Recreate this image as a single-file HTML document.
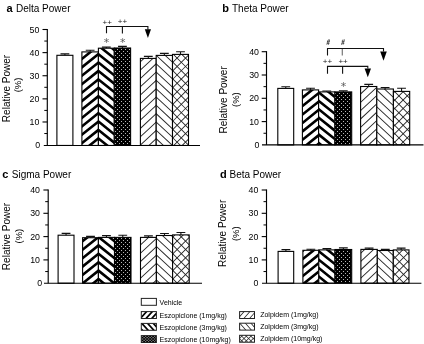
<!DOCTYPE html>
<html><head><meta charset="utf-8"><title>Relative power figure</title>
<style>
html,body{margin:0;padding:0;background:#fff;}
body{width:424px;height:344px;overflow:hidden;}
svg{display:block;}
text{font-family:"Liberation Sans", Arial, Helvetica, sans-serif;}
</style></head><body>
<svg width="424" height="344" viewBox="0 0 424 344">
<defs><clipPath id="c1"><rect x="56.9" y="55.3" width="16" height="90.15"/></clipPath>
<clipPath id="c2"><rect x="81.9" y="51.9" width="16.5" height="93.55"/></clipPath>
<clipPath id="c3"><rect x="98.4" y="48.2" width="15.9" height="97.25"/></clipPath>
<clipPath id="c4"><rect x="114.3" y="48" width="16.3" height="97.45"/></clipPath>
<clipPath id="c5"><rect x="140.4" y="58.4" width="15.8" height="87.05"/></clipPath>
<clipPath id="c6"><rect x="156.2" y="55.4" width="16.3" height="90.05"/></clipPath>
<clipPath id="c7"><rect x="172.5" y="54.4" width="16" height="91.05"/></clipPath>
<clipPath id="c8"><rect x="277.8" y="88.4" width="15.9" height="56.5"/></clipPath>
<clipPath id="c9"><rect x="302.4" y="89.9" width="16.2" height="55"/></clipPath>
<clipPath id="c10"><rect x="318.6" y="91.9" width="16.3" height="53"/></clipPath>
<clipPath id="c11"><rect x="334.9" y="91.9" width="16.8" height="53"/></clipPath>
<clipPath id="c12"><rect x="360.6" y="86.5" width="16.2" height="58.4"/></clipPath>
<clipPath id="c13"><rect x="376.8" y="89" width="16.6" height="55.9"/></clipPath>
<clipPath id="c14"><rect x="393.4" y="91.4" width="16.3" height="53.5"/></clipPath>
<clipPath id="c15"><rect x="58.1" y="235.2" width="15.9" height="48"/></clipPath>
<clipPath id="c16"><rect x="82.6" y="237.7" width="15.8" height="45.5"/></clipPath>
<clipPath id="c17"><rect x="98.4" y="237.4" width="16.1" height="45.8"/></clipPath>
<clipPath id="c18"><rect x="114.5" y="237.4" width="16.5" height="45.8"/></clipPath>
<clipPath id="c19"><rect x="140.5" y="237.4" width="15.9" height="45.8"/></clipPath>
<clipPath id="c20"><rect x="156.4" y="235.5" width="16.2" height="47.7"/></clipPath>
<clipPath id="c21"><rect x="172.6" y="234.9" width="16.6" height="48.3"/></clipPath>
<clipPath id="c22"><rect x="278.1" y="251.4" width="15.6" height="31.8"/></clipPath>
<clipPath id="c23"><rect x="302.9" y="250.3" width="15.9" height="32.9"/></clipPath>
<clipPath id="c24"><rect x="318.8" y="249.9" width="16.2" height="33.3"/></clipPath>
<clipPath id="c25"><rect x="335" y="249.5" width="16.7" height="33.7"/></clipPath>
<clipPath id="c26"><rect x="360.9" y="249.4" width="16.4" height="33.8"/></clipPath>
<clipPath id="c27"><rect x="377.3" y="250.5" width="16" height="32.7"/></clipPath>
<clipPath id="c28"><rect x="393.3" y="249.9" width="15.7" height="33.3"/></clipPath>
<clipPath id="c29"><rect x="141.3" y="298.4" width="15.1" height="6.9"/></clipPath>
<clipPath id="c30"><rect x="141.3" y="311.6" width="15.1" height="6.9"/></clipPath>
<clipPath id="c31"><rect x="141.3" y="323.4" width="15.1" height="6.9"/></clipPath>
<clipPath id="c32"><rect x="141.3" y="335.6" width="15.1" height="6.9"/></clipPath>
<clipPath id="c33"><rect x="239.6" y="311.6" width="14.9" height="6.9"/></clipPath>
<clipPath id="c34"><rect x="239.6" y="323.2" width="14.9" height="6.9"/></clipPath>
<clipPath id="c35"><rect x="239.6" y="335.3" width="14.9" height="6.9"/></clipPath></defs>
<rect width="424" height="344" fill="#fff"/>
<g><text x="6.5" y="12.4" font-size="11" font-weight="bold">a</text>
<text x="16" y="12.4" font-size="10" letter-spacing="0">Delta Power</text>
<text transform="translate(9.6,88.5) rotate(-90)" text-anchor="middle" font-size="10" letter-spacing="0">Relative Power</text>
<text transform="translate(21.4,84.9) rotate(-90)" text-anchor="middle" font-size="9.5">(%)</text>
<rect x="56.9" y="55.3" width="16" height="90.15" fill="#fff"/><rect x="56.9" y="55.3" width="16" height="90.15" fill="none" stroke="#000" stroke-width="1.1"/>
<path d="M64.9,55.3V53.9M60.5,53.9H69.3" stroke="#111" stroke-width="1.1" fill="none"/>
<rect x="81.9" y="51.9" width="16.5" height="93.55" fill="#fff"/><g clip-path="url(#c2)"><path d="M80.9,41.16L99.4,26.36L99.4,29.66L80.9,44.46ZM80.9,49.59L99.4,34.79L99.4,38.09L80.9,52.89ZM80.9,58.02L99.4,43.22L99.4,46.52L80.9,61.32ZM80.9,66.45L99.4,51.65L99.4,54.95L80.9,69.75ZM80.9,74.88L99.4,60.08L99.4,63.38L80.9,78.18ZM80.9,83.31L99.4,68.51L99.4,71.81L80.9,86.61ZM80.9,91.74L99.4,76.94L99.4,80.24L80.9,95.04ZM80.9,100.17L99.4,85.37L99.4,88.67L80.9,103.47ZM80.9,108.6L99.4,93.8L99.4,97.1L80.9,111.9ZM80.9,117.03L99.4,102.23L99.4,105.53L80.9,120.33ZM80.9,125.46L99.4,110.66L99.4,113.96L80.9,128.76ZM80.9,133.89L99.4,119.09L99.4,122.39L80.9,137.19ZM80.9,142.32L99.4,127.52L99.4,130.82L80.9,145.62ZM80.9,150.75L99.4,135.95L99.4,139.25L80.9,154.05ZM80.9,159.18L99.4,144.38L99.4,147.68L80.9,162.48ZM80.9,167.61L99.4,152.81L99.4,156.11L80.9,170.91Z" fill="#000"/></g><rect x="81.9" y="51.9" width="16.5" height="93.55" fill="none" stroke="#000" stroke-width="1.1"/>
<path d="M90.15,51.9V50.2M85.75,50.2H94.55" stroke="#111" stroke-width="1.1" fill="none"/>
<rect x="98.4" y="48.2" width="15.9" height="97.25" fill="#fff"/><g clip-path="url(#c3)"><path d="M97.4,26.36L115.3,40.68L115.3,43.98L97.4,29.66ZM97.4,34.79L115.3,49.11L115.3,52.41L97.4,38.09ZM97.4,43.22L115.3,57.54L115.3,60.84L97.4,46.52ZM97.4,51.65L115.3,65.97L115.3,69.27L97.4,54.95ZM97.4,60.08L115.3,74.4L115.3,77.7L97.4,63.38ZM97.4,68.51L115.3,82.83L115.3,86.13L97.4,71.81ZM97.4,76.94L115.3,91.26L115.3,94.56L97.4,80.24ZM97.4,85.37L115.3,99.69L115.3,102.99L97.4,88.67ZM97.4,93.8L115.3,108.12L115.3,111.42L97.4,97.1ZM97.4,102.23L115.3,116.55L115.3,119.85L97.4,105.53ZM97.4,110.66L115.3,124.98L115.3,128.28L97.4,113.96ZM97.4,119.09L115.3,133.41L115.3,136.71L97.4,122.39ZM97.4,127.52L115.3,141.84L115.3,145.14L97.4,130.82ZM97.4,135.95L115.3,150.27L115.3,153.57L97.4,139.25ZM97.4,144.38L115.3,158.7L115.3,162L97.4,147.68ZM97.4,152.81L115.3,167.13L115.3,170.43L97.4,156.11Z" fill="#000"/></g><rect x="98.4" y="48.2" width="15.9" height="97.25" fill="none" stroke="#000" stroke-width="1.1"/>
<path d="M106.35,48.2V47.1M101.95,47.1H110.75" stroke="#111" stroke-width="1.1" fill="none"/>
<rect x="114.3" y="48" width="16.3" height="97.45" fill="#fff"/><g clip-path="url(#c4)"><rect x="114.3" y="48" width="16.3" height="97.45" fill="#000"/><path d="M111,47h1v1h-1ZM115,47h1v1h-1ZM119,47h1v1h-1ZM123,47h1v1h-1ZM127,47h1v1h-1ZM113,49h1v1h-1ZM117,49h1v1h-1ZM121,49h1v1h-1ZM125,49h1v1h-1ZM129,49h1v1h-1ZM111,51h1v1h-1ZM115,51h1v1h-1ZM119,51h1v1h-1ZM123,51h1v1h-1ZM127,51h1v1h-1ZM113,53h1v1h-1ZM117,53h1v1h-1ZM121,53h1v1h-1ZM125,53h1v1h-1ZM129,53h1v1h-1ZM111,55h1v1h-1ZM115,55h1v1h-1ZM119,55h1v1h-1ZM123,55h1v1h-1ZM127,55h1v1h-1ZM113,57h1v1h-1ZM117,57h1v1h-1ZM121,57h1v1h-1ZM125,57h1v1h-1ZM129,57h1v1h-1ZM111,59h1v1h-1ZM115,59h1v1h-1ZM119,59h1v1h-1ZM123,59h1v1h-1ZM127,59h1v1h-1ZM113,61h1v1h-1ZM117,61h1v1h-1ZM121,61h1v1h-1ZM125,61h1v1h-1ZM129,61h1v1h-1ZM111,63h1v1h-1ZM115,63h1v1h-1ZM119,63h1v1h-1ZM123,63h1v1h-1ZM127,63h1v1h-1ZM113,65h1v1h-1ZM117,65h1v1h-1ZM121,65h1v1h-1ZM125,65h1v1h-1ZM129,65h1v1h-1ZM111,67h1v1h-1ZM115,67h1v1h-1ZM119,67h1v1h-1ZM123,67h1v1h-1ZM127,67h1v1h-1ZM113,69h1v1h-1ZM117,69h1v1h-1ZM121,69h1v1h-1ZM125,69h1v1h-1ZM129,69h1v1h-1ZM111,71h1v1h-1ZM115,71h1v1h-1ZM119,71h1v1h-1ZM123,71h1v1h-1ZM127,71h1v1h-1ZM113,73h1v1h-1ZM117,73h1v1h-1ZM121,73h1v1h-1ZM125,73h1v1h-1ZM129,73h1v1h-1ZM111,75h1v1h-1ZM115,75h1v1h-1ZM119,75h1v1h-1ZM123,75h1v1h-1ZM127,75h1v1h-1ZM113,77h1v1h-1ZM117,77h1v1h-1ZM121,77h1v1h-1ZM125,77h1v1h-1ZM129,77h1v1h-1ZM111,79h1v1h-1ZM115,79h1v1h-1ZM119,79h1v1h-1ZM123,79h1v1h-1ZM127,79h1v1h-1ZM113,81h1v1h-1ZM117,81h1v1h-1ZM121,81h1v1h-1ZM125,81h1v1h-1ZM129,81h1v1h-1ZM111,83h1v1h-1ZM115,83h1v1h-1ZM119,83h1v1h-1ZM123,83h1v1h-1ZM127,83h1v1h-1ZM113,85h1v1h-1ZM117,85h1v1h-1ZM121,85h1v1h-1ZM125,85h1v1h-1ZM129,85h1v1h-1ZM111,87h1v1h-1ZM115,87h1v1h-1ZM119,87h1v1h-1ZM123,87h1v1h-1ZM127,87h1v1h-1ZM113,89h1v1h-1ZM117,89h1v1h-1ZM121,89h1v1h-1ZM125,89h1v1h-1ZM129,89h1v1h-1ZM111,91h1v1h-1ZM115,91h1v1h-1ZM119,91h1v1h-1ZM123,91h1v1h-1ZM127,91h1v1h-1ZM113,93h1v1h-1ZM117,93h1v1h-1ZM121,93h1v1h-1ZM125,93h1v1h-1ZM129,93h1v1h-1ZM111,95h1v1h-1ZM115,95h1v1h-1ZM119,95h1v1h-1ZM123,95h1v1h-1ZM127,95h1v1h-1ZM113,97h1v1h-1ZM117,97h1v1h-1ZM121,97h1v1h-1ZM125,97h1v1h-1ZM129,97h1v1h-1ZM111,99h1v1h-1ZM115,99h1v1h-1ZM119,99h1v1h-1ZM123,99h1v1h-1ZM127,99h1v1h-1ZM113,101h1v1h-1ZM117,101h1v1h-1ZM121,101h1v1h-1ZM125,101h1v1h-1ZM129,101h1v1h-1ZM111,103h1v1h-1ZM115,103h1v1h-1ZM119,103h1v1h-1ZM123,103h1v1h-1ZM127,103h1v1h-1ZM113,105h1v1h-1ZM117,105h1v1h-1ZM121,105h1v1h-1ZM125,105h1v1h-1ZM129,105h1v1h-1ZM111,107h1v1h-1ZM115,107h1v1h-1ZM119,107h1v1h-1ZM123,107h1v1h-1ZM127,107h1v1h-1ZM113,109h1v1h-1ZM117,109h1v1h-1ZM121,109h1v1h-1ZM125,109h1v1h-1ZM129,109h1v1h-1ZM111,111h1v1h-1ZM115,111h1v1h-1ZM119,111h1v1h-1ZM123,111h1v1h-1ZM127,111h1v1h-1ZM113,113h1v1h-1ZM117,113h1v1h-1ZM121,113h1v1h-1ZM125,113h1v1h-1ZM129,113h1v1h-1ZM111,115h1v1h-1ZM115,115h1v1h-1ZM119,115h1v1h-1ZM123,115h1v1h-1ZM127,115h1v1h-1ZM113,117h1v1h-1ZM117,117h1v1h-1ZM121,117h1v1h-1ZM125,117h1v1h-1ZM129,117h1v1h-1ZM111,119h1v1h-1ZM115,119h1v1h-1ZM119,119h1v1h-1ZM123,119h1v1h-1ZM127,119h1v1h-1ZM113,121h1v1h-1ZM117,121h1v1h-1ZM121,121h1v1h-1ZM125,121h1v1h-1ZM129,121h1v1h-1ZM111,123h1v1h-1ZM115,123h1v1h-1ZM119,123h1v1h-1ZM123,123h1v1h-1ZM127,123h1v1h-1ZM113,125h1v1h-1ZM117,125h1v1h-1ZM121,125h1v1h-1ZM125,125h1v1h-1ZM129,125h1v1h-1ZM111,127h1v1h-1ZM115,127h1v1h-1ZM119,127h1v1h-1ZM123,127h1v1h-1ZM127,127h1v1h-1ZM113,129h1v1h-1ZM117,129h1v1h-1ZM121,129h1v1h-1ZM125,129h1v1h-1ZM129,129h1v1h-1ZM111,131h1v1h-1ZM115,131h1v1h-1ZM119,131h1v1h-1ZM123,131h1v1h-1ZM127,131h1v1h-1ZM113,133h1v1h-1ZM117,133h1v1h-1ZM121,133h1v1h-1ZM125,133h1v1h-1ZM129,133h1v1h-1ZM111,135h1v1h-1ZM115,135h1v1h-1ZM119,135h1v1h-1ZM123,135h1v1h-1ZM127,135h1v1h-1ZM113,137h1v1h-1ZM117,137h1v1h-1ZM121,137h1v1h-1ZM125,137h1v1h-1ZM129,137h1v1h-1ZM111,139h1v1h-1ZM115,139h1v1h-1ZM119,139h1v1h-1ZM123,139h1v1h-1ZM127,139h1v1h-1ZM113,141h1v1h-1ZM117,141h1v1h-1ZM121,141h1v1h-1ZM125,141h1v1h-1ZM129,141h1v1h-1ZM111,143h1v1h-1ZM115,143h1v1h-1ZM119,143h1v1h-1ZM123,143h1v1h-1ZM127,143h1v1h-1ZM113,145h1v1h-1ZM117,145h1v1h-1ZM121,145h1v1h-1ZM125,145h1v1h-1ZM129,145h1v1h-1Z" fill="#b8b8b8"/></g><rect x="114.3" y="48" width="16.3" height="97.45" fill="none" stroke="#000" stroke-width="1.1"/>
<path d="M122.45,48V46.4M118.05,46.4H126.85" stroke="#111" stroke-width="1.1" fill="none"/>
<rect x="140.4" y="58.4" width="15.8" height="87.05" fill="#fff"/><g clip-path="url(#c5)"><path d="M139.4,53.71L157.2,37.16L157.2,38.46L139.4,55.01ZM139.4,62.04L157.2,45.49L157.2,46.79L139.4,63.34ZM139.4,70.37L157.2,53.82L157.2,55.12L139.4,71.67ZM139.4,78.7L157.2,62.15L157.2,63.45L139.4,80ZM139.4,87.03L157.2,70.48L157.2,71.78L139.4,88.33ZM139.4,95.36L157.2,78.81L157.2,80.11L139.4,96.66ZM139.4,103.69L157.2,87.14L157.2,88.44L139.4,104.99ZM139.4,112.02L157.2,95.47L157.2,96.77L139.4,113.32ZM139.4,120.35L157.2,103.8L157.2,105.1L139.4,121.65ZM139.4,128.68L157.2,112.13L157.2,113.43L139.4,129.98ZM139.4,137.01L157.2,120.46L157.2,121.76L139.4,138.31ZM139.4,145.34L157.2,128.79L157.2,130.09L139.4,146.64ZM139.4,153.67L157.2,137.12L157.2,138.42L139.4,154.97ZM139.4,162L157.2,145.45L157.2,146.75L139.4,163.3Z" fill="#2a2a2a"/></g><rect x="140.4" y="58.4" width="15.8" height="87.05" fill="none" stroke="#000" stroke-width="1.1"/>
<path d="M148.3,58.4V56.4M143.9,56.4H152.7" stroke="#111" stroke-width="1.1" fill="none"/>
<rect x="156.2" y="55.4" width="16.3" height="90.05" fill="#fff"/><g clip-path="url(#c6)"><path d="M155.2,37.16L173.5,54.18L173.5,55.48L155.2,38.46ZM155.2,45.49L173.5,62.51L173.5,63.81L155.2,46.79ZM155.2,53.82L173.5,70.84L173.5,72.14L155.2,55.12ZM155.2,62.15L173.5,79.17L173.5,80.47L155.2,63.45ZM155.2,70.48L173.5,87.5L173.5,88.8L155.2,71.78ZM155.2,78.81L173.5,95.83L173.5,97.13L155.2,80.11ZM155.2,87.14L173.5,104.16L173.5,105.46L155.2,88.44ZM155.2,95.47L173.5,112.49L173.5,113.79L155.2,96.77ZM155.2,103.8L173.5,120.82L173.5,122.12L155.2,105.1ZM155.2,112.13L173.5,129.15L173.5,130.45L155.2,113.43ZM155.2,120.46L173.5,137.48L173.5,138.78L155.2,121.76ZM155.2,128.79L173.5,145.81L173.5,147.11L155.2,130.09ZM155.2,137.12L173.5,154.14L173.5,155.44L155.2,138.42ZM155.2,145.45L173.5,162.47L173.5,163.77L155.2,146.75Z" fill="#2a2a2a"/></g><rect x="156.2" y="55.4" width="16.3" height="90.05" fill="none" stroke="#000" stroke-width="1.1"/>
<path d="M164.35,55.4V53.4M159.95,53.4H168.75" stroke="#111" stroke-width="1.1" fill="none"/>
<rect x="172.5" y="54.4" width="16" height="91.05" fill="#fff"/><g clip-path="url(#c7)"><path d="M171.5,46.28L189.5,28.28L189.5,29.53L171.5,47.53ZM171.5,54.68L189.5,36.68L189.5,37.93L171.5,55.93ZM171.5,63.07L189.5,45.07L189.5,46.32L171.5,64.32ZM171.5,71.48L189.5,53.48L189.5,54.73L171.5,72.73ZM171.5,79.88L189.5,61.88L189.5,63.12L171.5,81.12ZM171.5,88.27L189.5,70.27L189.5,71.52L171.5,89.52ZM171.5,96.68L189.5,78.68L189.5,79.93L171.5,97.93ZM171.5,105.07L189.5,87.07L189.5,88.32L171.5,106.32ZM171.5,113.48L189.5,95.48L189.5,96.73L171.5,114.73ZM171.5,121.88L189.5,103.88L189.5,105.12L171.5,123.12ZM171.5,130.28L189.5,112.28L189.5,113.53L171.5,131.53ZM171.5,138.68L189.5,120.68L189.5,121.93L171.5,139.93ZM171.5,147.07L189.5,129.07L189.5,130.32L171.5,148.32ZM171.5,155.48L189.5,137.48L189.5,138.73L171.5,156.73ZM171.5,163.88L189.5,145.88L189.5,147.12L171.5,165.12Z" fill="#222"/><path d="M171.5,35.07L189.5,53.07L189.5,54.32L171.5,36.32ZM171.5,43.47L189.5,61.47L189.5,62.72L171.5,44.72ZM171.5,51.88L189.5,69.88L189.5,71.12L171.5,53.12ZM171.5,60.27L189.5,78.27L189.5,79.52L171.5,61.52ZM171.5,68.67L189.5,86.67L189.5,87.92L171.5,69.92ZM171.5,77.07L189.5,95.07L189.5,96.32L171.5,78.32ZM171.5,85.47L189.5,103.47L189.5,104.72L171.5,86.72ZM171.5,93.88L189.5,111.88L189.5,113.12L171.5,95.12ZM171.5,102.27L189.5,120.27L189.5,121.52L171.5,103.52ZM171.5,110.67L189.5,128.68L189.5,129.93L171.5,111.92ZM171.5,119.07L189.5,137.07L189.5,138.32L171.5,120.32ZM171.5,127.47L189.5,145.47L189.5,146.72L171.5,128.72ZM171.5,135.88L189.5,153.88L189.5,155.12L171.5,137.12ZM171.5,144.28L189.5,162.28L189.5,163.53L171.5,145.53ZM171.5,152.68L189.5,170.68L189.5,171.93L171.5,153.93Z" fill="#222"/></g><rect x="172.5" y="54.4" width="16" height="91.05" fill="none" stroke="#000" stroke-width="1.1"/>
<path d="M180.5,54.4V51.7M176.1,51.7H184.9" stroke="#111" stroke-width="1.1" fill="none"/>
<path d="M47.3,28.95V145.1" stroke="#000" stroke-width="1.15"/>
<path d="M43.8,145.45H200" stroke="#000" stroke-width="1.15"/>
<text x="40.2" y="148.2" font-size="8.8" text-anchor="end">0</text>
<path d="M44.3,133.54H47.3" stroke="#000" stroke-width="1"/>
<path d="M42.5,121.98H47.3" stroke="#000" stroke-width="1.1"/>
<text x="39.4" y="125.08" font-size="8.8" text-anchor="end">10</text>
<path d="M44.3,110.42H47.3" stroke="#000" stroke-width="1"/>
<path d="M42.5,98.86H47.3" stroke="#000" stroke-width="1.1"/>
<text x="39.4" y="101.96" font-size="8.8" text-anchor="end">20</text>
<path d="M44.3,87.3H47.3" stroke="#000" stroke-width="1"/>
<path d="M42.5,75.74H47.3" stroke="#000" stroke-width="1.1"/>
<text x="39.4" y="78.84" font-size="8.8" text-anchor="end">30</text>
<path d="M44.3,64.18H47.3" stroke="#000" stroke-width="1"/>
<path d="M42.5,52.62H47.3" stroke="#000" stroke-width="1.1"/>
<text x="39.4" y="55.72" font-size="8.8" text-anchor="end">40</text>
<path d="M44.3,41.06H47.3" stroke="#000" stroke-width="1"/>
<path d="M42.5,29.5H47.3" stroke="#000" stroke-width="1.1"/>
<text x="39.4" y="32.6" font-size="8.8" text-anchor="end">50</text></g>
<g><text x="222.2" y="12.4" font-size="11" font-weight="bold">b</text>
<text x="232" y="12.4" font-size="10" letter-spacing="0">Theta Power</text>
<text transform="translate(226.7,99.9) rotate(-90)" text-anchor="middle" font-size="10" letter-spacing="0">Relative Power</text>
<text transform="translate(238.9,99.6) rotate(-90)" text-anchor="middle" font-size="9.5">(%)</text>
<rect x="277.8" y="88.4" width="15.9" height="56.5" fill="#fff"/><rect x="277.8" y="88.4" width="15.9" height="56.5" fill="none" stroke="#000" stroke-width="1.1"/>
<path d="M285.75,88.4V86.7M281.35,86.7H290.15" stroke="#111" stroke-width="1.1" fill="none"/>
<rect x="302.4" y="89.9" width="16.2" height="55" fill="#fff"/><g clip-path="url(#c9)"><path d="M301.4,79.99L319.6,65.43L319.6,68.73L301.4,83.29ZM301.4,88.42L319.6,73.86L319.6,77.16L301.4,91.72ZM301.4,96.85L319.6,82.29L319.6,85.59L301.4,100.15ZM301.4,105.28L319.6,90.72L319.6,94.02L301.4,108.58ZM301.4,113.71L319.6,99.15L319.6,102.45L301.4,117.01ZM301.4,122.14L319.6,107.58L319.6,110.88L301.4,125.44ZM301.4,130.57L319.6,116.01L319.6,119.31L301.4,133.87ZM301.4,139L319.6,124.44L319.6,127.74L301.4,142.3ZM301.4,147.43L319.6,132.87L319.6,136.17L301.4,150.73ZM301.4,155.86L319.6,141.3L319.6,144.6L301.4,159.16ZM301.4,164.29L319.6,149.73L319.6,153.03L301.4,167.59Z" fill="#000"/></g><rect x="302.4" y="89.9" width="16.2" height="55" fill="none" stroke="#000" stroke-width="1.1"/>
<path d="M310.5,89.9V88.2M306.1,88.2H314.9" stroke="#111" stroke-width="1.1" fill="none"/>
<rect x="318.6" y="91.9" width="16.3" height="53" fill="#fff"/><g clip-path="url(#c10)"><path d="M317.6,73.02L335.9,87.66L335.9,90.96L317.6,76.32ZM317.6,81.45L335.9,96.09L335.9,99.39L317.6,84.75ZM317.6,89.88L335.9,104.52L335.9,107.82L317.6,93.18ZM317.6,98.31L335.9,112.95L335.9,116.25L317.6,101.61ZM317.6,106.74L335.9,121.38L335.9,124.68L317.6,110.04ZM317.6,115.17L335.9,129.81L335.9,133.11L317.6,118.47ZM317.6,123.6L335.9,138.24L335.9,141.54L317.6,126.9ZM317.6,132.03L335.9,146.67L335.9,149.97L317.6,135.33ZM317.6,140.46L335.9,155.1L335.9,158.4L317.6,143.76ZM317.6,148.89L335.9,163.53L335.9,166.83L317.6,152.19Z" fill="#000"/></g><rect x="318.6" y="91.9" width="16.3" height="53" fill="none" stroke="#000" stroke-width="1.1"/>
<path d="M326.75,91.9V91M322.35,91H331.15" stroke="#111" stroke-width="1.1" fill="none"/>
<rect x="334.9" y="91.9" width="16.8" height="53" fill="#fff"/><g clip-path="url(#c11)"><rect x="334.9" y="91.9" width="16.8" height="53" fill="#000"/><path d="M333,91h1v1h-1ZM337,91h1v1h-1ZM341,91h1v1h-1ZM345,91h1v1h-1ZM349,91h1v1h-1ZM331,93h1v1h-1ZM335,93h1v1h-1ZM339,93h1v1h-1ZM343,93h1v1h-1ZM347,93h1v1h-1ZM351,93h1v1h-1ZM333,95h1v1h-1ZM337,95h1v1h-1ZM341,95h1v1h-1ZM345,95h1v1h-1ZM349,95h1v1h-1ZM331,97h1v1h-1ZM335,97h1v1h-1ZM339,97h1v1h-1ZM343,97h1v1h-1ZM347,97h1v1h-1ZM351,97h1v1h-1ZM333,99h1v1h-1ZM337,99h1v1h-1ZM341,99h1v1h-1ZM345,99h1v1h-1ZM349,99h1v1h-1ZM331,101h1v1h-1ZM335,101h1v1h-1ZM339,101h1v1h-1ZM343,101h1v1h-1ZM347,101h1v1h-1ZM351,101h1v1h-1ZM333,103h1v1h-1ZM337,103h1v1h-1ZM341,103h1v1h-1ZM345,103h1v1h-1ZM349,103h1v1h-1ZM331,105h1v1h-1ZM335,105h1v1h-1ZM339,105h1v1h-1ZM343,105h1v1h-1ZM347,105h1v1h-1ZM351,105h1v1h-1ZM333,107h1v1h-1ZM337,107h1v1h-1ZM341,107h1v1h-1ZM345,107h1v1h-1ZM349,107h1v1h-1ZM331,109h1v1h-1ZM335,109h1v1h-1ZM339,109h1v1h-1ZM343,109h1v1h-1ZM347,109h1v1h-1ZM351,109h1v1h-1ZM333,111h1v1h-1ZM337,111h1v1h-1ZM341,111h1v1h-1ZM345,111h1v1h-1ZM349,111h1v1h-1ZM331,113h1v1h-1ZM335,113h1v1h-1ZM339,113h1v1h-1ZM343,113h1v1h-1ZM347,113h1v1h-1ZM351,113h1v1h-1ZM333,115h1v1h-1ZM337,115h1v1h-1ZM341,115h1v1h-1ZM345,115h1v1h-1ZM349,115h1v1h-1ZM331,117h1v1h-1ZM335,117h1v1h-1ZM339,117h1v1h-1ZM343,117h1v1h-1ZM347,117h1v1h-1ZM351,117h1v1h-1ZM333,119h1v1h-1ZM337,119h1v1h-1ZM341,119h1v1h-1ZM345,119h1v1h-1ZM349,119h1v1h-1ZM331,121h1v1h-1ZM335,121h1v1h-1ZM339,121h1v1h-1ZM343,121h1v1h-1ZM347,121h1v1h-1ZM351,121h1v1h-1ZM333,123h1v1h-1ZM337,123h1v1h-1ZM341,123h1v1h-1ZM345,123h1v1h-1ZM349,123h1v1h-1ZM331,125h1v1h-1ZM335,125h1v1h-1ZM339,125h1v1h-1ZM343,125h1v1h-1ZM347,125h1v1h-1ZM351,125h1v1h-1ZM333,127h1v1h-1ZM337,127h1v1h-1ZM341,127h1v1h-1ZM345,127h1v1h-1ZM349,127h1v1h-1ZM331,129h1v1h-1ZM335,129h1v1h-1ZM339,129h1v1h-1ZM343,129h1v1h-1ZM347,129h1v1h-1ZM351,129h1v1h-1ZM333,131h1v1h-1ZM337,131h1v1h-1ZM341,131h1v1h-1ZM345,131h1v1h-1ZM349,131h1v1h-1ZM331,133h1v1h-1ZM335,133h1v1h-1ZM339,133h1v1h-1ZM343,133h1v1h-1ZM347,133h1v1h-1ZM351,133h1v1h-1ZM333,135h1v1h-1ZM337,135h1v1h-1ZM341,135h1v1h-1ZM345,135h1v1h-1ZM349,135h1v1h-1ZM331,137h1v1h-1ZM335,137h1v1h-1ZM339,137h1v1h-1ZM343,137h1v1h-1ZM347,137h1v1h-1ZM351,137h1v1h-1ZM333,139h1v1h-1ZM337,139h1v1h-1ZM341,139h1v1h-1ZM345,139h1v1h-1ZM349,139h1v1h-1ZM331,141h1v1h-1ZM335,141h1v1h-1ZM339,141h1v1h-1ZM343,141h1v1h-1ZM347,141h1v1h-1ZM351,141h1v1h-1ZM333,143h1v1h-1ZM337,143h1v1h-1ZM341,143h1v1h-1ZM345,143h1v1h-1ZM349,143h1v1h-1Z" fill="#b8b8b8"/></g><rect x="334.9" y="91.9" width="16.8" height="53" fill="none" stroke="#000" stroke-width="1.1"/>
<path d="M343.3,91.9V90.7M338.9,90.7H347.7" stroke="#111" stroke-width="1.1" fill="none"/>
<rect x="360.6" y="86.5" width="16.2" height="58.4" fill="#fff"/><g clip-path="url(#c12)"><path d="M359.6,77.58L377.8,60.65L377.8,61.95L359.6,78.88ZM359.6,85.91L377.8,68.98L377.8,70.28L359.6,87.21ZM359.6,94.24L377.8,77.31L377.8,78.61L359.6,95.54ZM359.6,102.57L377.8,85.64L377.8,86.94L359.6,103.87ZM359.6,110.9L377.8,93.97L377.8,95.27L359.6,112.2ZM359.6,119.23L377.8,102.3L377.8,103.6L359.6,120.53ZM359.6,127.56L377.8,110.63L377.8,111.93L359.6,128.86ZM359.6,135.89L377.8,118.96L377.8,120.26L359.6,137.19ZM359.6,144.22L377.8,127.29L377.8,128.59L359.6,145.52ZM359.6,152.55L377.8,135.62L377.8,136.92L359.6,153.85ZM359.6,160.88L377.8,143.95L377.8,145.25L359.6,162.18ZM359.6,169.21L377.8,152.28L377.8,153.58L359.6,170.51Z" fill="#2a2a2a"/></g><rect x="360.6" y="86.5" width="16.2" height="58.4" fill="none" stroke="#000" stroke-width="1.1"/>
<path d="M368.7,86.5V84.4M364.3,84.4H373.1" stroke="#111" stroke-width="1.1" fill="none"/>
<rect x="376.8" y="89" width="16.6" height="55.9" fill="#fff"/><g clip-path="url(#c13)"><path d="M375.8,63.65L394.4,80.95L394.4,82.25L375.8,64.95ZM375.8,71.98L394.4,89.28L394.4,90.58L375.8,73.28ZM375.8,80.31L394.4,97.61L394.4,98.91L375.8,81.61ZM375.8,88.64L394.4,105.94L394.4,107.24L375.8,89.94ZM375.8,96.97L394.4,114.27L394.4,115.57L375.8,98.27ZM375.8,105.3L394.4,122.6L394.4,123.9L375.8,106.6ZM375.8,113.63L394.4,130.93L394.4,132.23L375.8,114.93ZM375.8,121.96L394.4,139.26L394.4,140.56L375.8,123.26ZM375.8,130.29L394.4,147.59L394.4,148.89L375.8,131.59ZM375.8,138.62L394.4,155.92L394.4,157.22L375.8,139.92ZM375.8,146.95L394.4,164.25L394.4,165.55L375.8,148.25Z" fill="#2a2a2a"/></g><rect x="376.8" y="89" width="16.6" height="55.9" fill="none" stroke="#000" stroke-width="1.1"/>
<path d="M385.1,89V87.5M380.7,87.5H389.5" stroke="#111" stroke-width="1.1" fill="none"/>
<rect x="393.4" y="91.4" width="16.3" height="53.5" fill="#fff"/><g clip-path="url(#c14)"><path d="M392.4,84.98L410.7,66.68L410.7,67.93L392.4,86.23ZM392.4,93.38L410.7,75.07L410.7,76.32L392.4,94.62ZM392.4,101.77L410.7,83.47L410.7,84.72L392.4,103.02ZM392.4,110.18L410.7,91.88L410.7,93.12L392.4,111.43ZM392.4,118.57L410.7,100.27L410.7,101.52L392.4,119.82ZM392.4,126.98L410.7,108.68L410.7,109.93L392.4,128.23ZM392.4,135.38L410.7,117.07L410.7,118.32L392.4,136.62ZM392.4,143.77L410.7,125.47L410.7,126.72L392.4,145.02ZM392.4,152.17L410.7,133.87L410.7,135.12L392.4,153.42ZM392.4,160.58L410.7,142.28L410.7,143.53L392.4,161.83ZM392.4,168.98L410.7,150.68L410.7,151.93L392.4,170.23Z" fill="#222"/><path d="M392.4,71.97L410.7,90.27L410.7,91.52L392.4,73.22ZM392.4,80.37L410.7,98.67L410.7,99.92L392.4,81.62ZM392.4,88.77L410.7,107.07L410.7,108.32L392.4,90.02ZM392.4,97.17L410.7,115.47L410.7,116.72L392.4,98.42ZM392.4,105.57L410.7,123.88L410.7,125.12L392.4,106.82ZM392.4,113.97L410.7,132.27L410.7,133.52L392.4,115.22ZM392.4,122.37L410.7,140.67L410.7,141.92L392.4,123.62ZM392.4,130.77L410.7,149.07L410.7,150.32L392.4,132.02ZM392.4,139.17L410.7,157.47L410.7,158.72L392.4,140.42ZM392.4,147.57L410.7,165.87L410.7,167.12L392.4,148.82Z" fill="#222"/></g><rect x="393.4" y="91.4" width="16.3" height="53.5" fill="none" stroke="#000" stroke-width="1.1"/>
<path d="M401.55,91.4V88.2M397.15,88.2H405.95" stroke="#111" stroke-width="1.1" fill="none"/>
<path d="M266.5,51.15V144.9" stroke="#000" stroke-width="1.15"/>
<path d="M262,144.9H423.5" stroke="#000" stroke-width="1.15"/>
<text x="259.4" y="148" font-size="8.8" text-anchor="end">0</text>
<path d="M263.5,133.25H266.5" stroke="#000" stroke-width="1"/>
<path d="M261.7,121.6H266.5" stroke="#000" stroke-width="1.1"/>
<text x="259" y="124.7" font-size="8.8" text-anchor="end">10</text>
<path d="M263.5,109.95H266.5" stroke="#000" stroke-width="1"/>
<path d="M261.7,98.3H266.5" stroke="#000" stroke-width="1.1"/>
<text x="259" y="101.4" font-size="8.8" text-anchor="end">20</text>
<path d="M263.5,86.65H266.5" stroke="#000" stroke-width="1"/>
<path d="M261.7,75H266.5" stroke="#000" stroke-width="1.1"/>
<text x="259" y="78.1" font-size="8.8" text-anchor="end">30</text>
<path d="M263.5,63.35H266.5" stroke="#000" stroke-width="1"/>
<path d="M261.7,51.7H266.5" stroke="#000" stroke-width="1.1"/>
<text x="259" y="54.8" font-size="8.8" text-anchor="end">40</text></g>
<g><text x="2.2" y="178.3" font-size="11" font-weight="bold">c</text>
<text x="11.8" y="178.3" font-size="10" letter-spacing="0">Sigma Power</text>
<text transform="translate(10.2,236.5) rotate(-90)" text-anchor="middle" font-size="10" letter-spacing="0">Relative Power</text>
<text transform="translate(22.05,236.1) rotate(-90)" text-anchor="middle" font-size="9.5">(%)</text>
<rect x="58.1" y="235.2" width="15.9" height="48" fill="#fff"/><rect x="58.1" y="235.2" width="15.9" height="48" fill="none" stroke="#000" stroke-width="1.1"/>
<path d="M66.05,235.2V233.4M61.65,233.4H70.45" stroke="#111" stroke-width="1.1" fill="none"/>
<rect x="82.6" y="237.7" width="15.8" height="45.5" fill="#fff"/><g clip-path="url(#c16)"><path d="M81.6,231.96L99.4,217.72L99.4,221.02L81.6,235.26ZM81.6,240.39L99.4,226.15L99.4,229.45L81.6,243.69ZM81.6,248.82L99.4,234.58L99.4,237.88L81.6,252.12ZM81.6,257.25L99.4,243.01L99.4,246.31L81.6,260.55ZM81.6,265.68L99.4,251.44L99.4,254.74L81.6,268.98ZM81.6,274.11L99.4,259.87L99.4,263.17L81.6,277.41ZM81.6,282.54L99.4,268.3L99.4,271.6L81.6,285.84ZM81.6,290.97L99.4,276.73L99.4,280.03L81.6,294.27ZM81.6,299.4L99.4,285.16L99.4,288.46L81.6,302.7Z" fill="#000"/></g><rect x="82.6" y="237.7" width="15.8" height="45.5" fill="none" stroke="#000" stroke-width="1.1"/>
<path d="M90.5,237.7V236.4M86.1,236.4H94.9" stroke="#111" stroke-width="1.1" fill="none"/>
<rect x="98.4" y="237.4" width="16.1" height="45.8" fill="#fff"/><g clip-path="url(#c17)"><path d="M97.4,217.56L115.5,232.04L115.5,235.34L97.4,220.86ZM97.4,225.99L115.5,240.47L115.5,243.77L97.4,229.29ZM97.4,234.42L115.5,248.9L115.5,252.2L97.4,237.72ZM97.4,242.85L115.5,257.33L115.5,260.63L97.4,246.15ZM97.4,251.28L115.5,265.76L115.5,269.06L97.4,254.58ZM97.4,259.71L115.5,274.19L115.5,277.49L97.4,263.01ZM97.4,268.14L115.5,282.62L115.5,285.92L97.4,271.44ZM97.4,276.57L115.5,291.05L115.5,294.35L97.4,279.87ZM97.4,285L115.5,299.48L115.5,302.78L97.4,288.3Z" fill="#000"/></g><rect x="98.4" y="237.4" width="16.1" height="45.8" fill="none" stroke="#000" stroke-width="1.1"/>
<path d="M106.45,237.4V235.6M102.05,235.6H110.85" stroke="#111" stroke-width="1.1" fill="none"/>
<rect x="114.5" y="237.4" width="16.5" height="45.8" fill="#fff"/><g clip-path="url(#c18)"><rect x="114.5" y="237.4" width="16.5" height="45.8" fill="#000"/><path d="M111,236h1v1h-1ZM115,236h1v1h-1ZM119,236h1v1h-1ZM123,236h1v1h-1ZM127,236h1v1h-1ZM113,238h1v1h-1ZM117,238h1v1h-1ZM121,238h1v1h-1ZM125,238h1v1h-1ZM129,238h1v1h-1ZM111,240h1v1h-1ZM115,240h1v1h-1ZM119,240h1v1h-1ZM123,240h1v1h-1ZM127,240h1v1h-1ZM113,242h1v1h-1ZM117,242h1v1h-1ZM121,242h1v1h-1ZM125,242h1v1h-1ZM129,242h1v1h-1ZM111,244h1v1h-1ZM115,244h1v1h-1ZM119,244h1v1h-1ZM123,244h1v1h-1ZM127,244h1v1h-1ZM113,246h1v1h-1ZM117,246h1v1h-1ZM121,246h1v1h-1ZM125,246h1v1h-1ZM129,246h1v1h-1ZM111,248h1v1h-1ZM115,248h1v1h-1ZM119,248h1v1h-1ZM123,248h1v1h-1ZM127,248h1v1h-1ZM113,250h1v1h-1ZM117,250h1v1h-1ZM121,250h1v1h-1ZM125,250h1v1h-1ZM129,250h1v1h-1ZM111,252h1v1h-1ZM115,252h1v1h-1ZM119,252h1v1h-1ZM123,252h1v1h-1ZM127,252h1v1h-1ZM113,254h1v1h-1ZM117,254h1v1h-1ZM121,254h1v1h-1ZM125,254h1v1h-1ZM129,254h1v1h-1ZM111,256h1v1h-1ZM115,256h1v1h-1ZM119,256h1v1h-1ZM123,256h1v1h-1ZM127,256h1v1h-1ZM113,258h1v1h-1ZM117,258h1v1h-1ZM121,258h1v1h-1ZM125,258h1v1h-1ZM129,258h1v1h-1ZM111,260h1v1h-1ZM115,260h1v1h-1ZM119,260h1v1h-1ZM123,260h1v1h-1ZM127,260h1v1h-1ZM113,262h1v1h-1ZM117,262h1v1h-1ZM121,262h1v1h-1ZM125,262h1v1h-1ZM129,262h1v1h-1ZM111,264h1v1h-1ZM115,264h1v1h-1ZM119,264h1v1h-1ZM123,264h1v1h-1ZM127,264h1v1h-1ZM113,266h1v1h-1ZM117,266h1v1h-1ZM121,266h1v1h-1ZM125,266h1v1h-1ZM129,266h1v1h-1ZM111,268h1v1h-1ZM115,268h1v1h-1ZM119,268h1v1h-1ZM123,268h1v1h-1ZM127,268h1v1h-1ZM113,270h1v1h-1ZM117,270h1v1h-1ZM121,270h1v1h-1ZM125,270h1v1h-1ZM129,270h1v1h-1ZM111,272h1v1h-1ZM115,272h1v1h-1ZM119,272h1v1h-1ZM123,272h1v1h-1ZM127,272h1v1h-1ZM113,274h1v1h-1ZM117,274h1v1h-1ZM121,274h1v1h-1ZM125,274h1v1h-1ZM129,274h1v1h-1ZM111,276h1v1h-1ZM115,276h1v1h-1ZM119,276h1v1h-1ZM123,276h1v1h-1ZM127,276h1v1h-1ZM113,278h1v1h-1ZM117,278h1v1h-1ZM121,278h1v1h-1ZM125,278h1v1h-1ZM129,278h1v1h-1ZM111,280h1v1h-1ZM115,280h1v1h-1ZM119,280h1v1h-1ZM123,280h1v1h-1ZM127,280h1v1h-1ZM113,282h1v1h-1ZM117,282h1v1h-1ZM121,282h1v1h-1ZM125,282h1v1h-1ZM129,282h1v1h-1Z" fill="#b8b8b8"/></g><rect x="114.5" y="237.4" width="16.5" height="45.8" fill="none" stroke="#000" stroke-width="1.1"/>
<path d="M122.75,237.4V235.2M118.35,235.2H127.15" stroke="#111" stroke-width="1.1" fill="none"/>
<rect x="140.5" y="237.4" width="15.9" height="45.8" fill="#fff"/><g clip-path="url(#c19)"><path d="M139.5,228.52L157.4,211.87L157.4,213.17L139.5,229.82ZM139.5,236.85L157.4,220.2L157.4,221.5L139.5,238.15ZM139.5,245.18L157.4,228.53L157.4,229.83L139.5,246.48ZM139.5,253.51L157.4,236.86L157.4,238.16L139.5,254.81ZM139.5,261.84L157.4,245.19L157.4,246.49L139.5,263.14ZM139.5,270.17L157.4,253.52L157.4,254.82L139.5,271.47ZM139.5,278.5L157.4,261.85L157.4,263.15L139.5,279.8ZM139.5,286.83L157.4,270.18L157.4,271.48L139.5,288.13ZM139.5,295.16L157.4,278.51L157.4,279.81L139.5,296.46ZM139.5,303.49L157.4,286.84L157.4,288.14L139.5,304.79Z" fill="#2a2a2a"/></g><rect x="140.5" y="237.4" width="15.9" height="45.8" fill="none" stroke="#000" stroke-width="1.1"/>
<path d="M148.45,237.4V235.9M144.05,235.9H152.85" stroke="#111" stroke-width="1.1" fill="none"/>
<rect x="156.4" y="235.5" width="16.2" height="47.7" fill="#fff"/><g clip-path="url(#c20)"><path d="M155.4,211.69L173.6,228.61L173.6,229.91L155.4,212.99ZM155.4,220.02L173.6,236.94L173.6,238.24L155.4,221.32ZM155.4,228.35L173.6,245.27L173.6,246.57L155.4,229.65ZM155.4,236.68L173.6,253.6L173.6,254.9L155.4,237.98ZM155.4,245.01L173.6,261.93L173.6,263.23L155.4,246.31ZM155.4,253.34L173.6,270.26L173.6,271.56L155.4,254.64ZM155.4,261.67L173.6,278.59L173.6,279.89L155.4,262.97ZM155.4,270L173.6,286.92L173.6,288.22L155.4,271.3ZM155.4,278.33L173.6,295.25L173.6,296.55L155.4,279.63ZM155.4,286.66L173.6,303.58L173.6,304.88L155.4,287.96Z" fill="#2a2a2a"/></g><rect x="156.4" y="235.5" width="16.2" height="47.7" fill="none" stroke="#000" stroke-width="1.1"/>
<path d="M164.5,235.5V233.5M160.1,233.5H168.9" stroke="#111" stroke-width="1.1" fill="none"/>
<rect x="172.6" y="234.9" width="16.6" height="48.3" fill="#fff"/><g clip-path="url(#c21)"><path d="M171.6,229.17L190.2,210.57L190.2,211.82L171.6,230.42ZM171.6,237.58L190.2,218.98L190.2,220.23L171.6,238.83ZM171.6,245.97L190.2,227.38L190.2,228.62L171.6,247.22ZM171.6,254.38L190.2,235.78L190.2,237.03L171.6,255.63ZM171.6,262.77L190.2,244.18L190.2,245.43L171.6,264.02ZM171.6,271.18L190.2,252.58L190.2,253.83L171.6,272.43ZM171.6,279.58L190.2,260.98L190.2,262.23L171.6,280.83ZM171.6,287.98L190.2,269.38L190.2,270.62L171.6,289.23ZM171.6,296.38L190.2,277.78L190.2,279.03L171.6,297.62ZM171.6,304.77L190.2,286.18L190.2,287.43L171.6,306.02Z" fill="#222"/><path d="M171.6,209.77L190.2,228.37L190.2,229.62L171.6,211.02ZM171.6,218.17L190.2,236.77L190.2,238.02L171.6,219.42ZM171.6,226.57L190.2,245.17L190.2,246.42L171.6,227.82ZM171.6,234.97L190.2,253.57L190.2,254.82L171.6,236.22ZM171.6,243.38L190.2,261.97L190.2,263.22L171.6,244.62ZM171.6,251.77L190.2,270.38L190.2,271.62L171.6,253.02ZM171.6,260.17L190.2,278.77L190.2,280.02L171.6,261.42ZM171.6,268.57L190.2,287.17L190.2,288.42L171.6,269.82ZM171.6,276.97L190.2,295.57L190.2,296.82L171.6,278.22ZM171.6,285.38L190.2,303.97L190.2,305.22L171.6,286.62Z" fill="#222"/></g><rect x="172.6" y="234.9" width="16.6" height="48.3" fill="none" stroke="#000" stroke-width="1.1"/>
<path d="M180.9,234.9V232.5M176.5,232.5H185.3" stroke="#111" stroke-width="1.1" fill="none"/>
<path d="M48.2,189.45V283.2" stroke="#000" stroke-width="1.15"/>
<path d="M44,283.2H202" stroke="#000" stroke-width="1.15"/>
<text x="42.1" y="286.3" font-size="8.8" text-anchor="end">0</text>
<path d="M45.2,271.55H48.2" stroke="#000" stroke-width="1"/>
<path d="M43.4,259.9H48.2" stroke="#000" stroke-width="1.1"/>
<text x="40" y="263" font-size="8.8" text-anchor="end">10</text>
<path d="M45.2,248.25H48.2" stroke="#000" stroke-width="1"/>
<path d="M43.4,236.6H48.2" stroke="#000" stroke-width="1.1"/>
<text x="40" y="239.7" font-size="8.8" text-anchor="end">20</text>
<path d="M45.2,224.95H48.2" stroke="#000" stroke-width="1"/>
<path d="M43.4,213.3H48.2" stroke="#000" stroke-width="1.1"/>
<text x="40" y="216.4" font-size="8.8" text-anchor="end">30</text>
<path d="M45.2,201.65H48.2" stroke="#000" stroke-width="1"/>
<path d="M43.4,190H48.2" stroke="#000" stroke-width="1.1"/>
<text x="40" y="193.1" font-size="8.8" text-anchor="end">40</text></g>
<g><text x="220" y="178.3" font-size="11" font-weight="bold">d</text>
<text x="229.5" y="178.3" font-size="10" letter-spacing="0">Beta Power</text>
<text transform="translate(226.3,233.4) rotate(-90)" text-anchor="middle" font-size="10" letter-spacing="0">Relative Power</text>
<text transform="translate(238.65,233.7) rotate(-90)" text-anchor="middle" font-size="9.5">(%)</text>
<rect x="278.1" y="251.4" width="15.6" height="31.8" fill="#fff"/><rect x="278.1" y="251.4" width="15.6" height="31.8" fill="none" stroke="#000" stroke-width="1.1"/>
<path d="M285.9,251.4V249.6M281.5,249.6H290.3" stroke="#111" stroke-width="1.1" fill="none"/>
<rect x="302.9" y="250.3" width="15.9" height="32.9" fill="#fff"/><g clip-path="url(#c23)"><path d="M301.9,241.25L319.8,226.93L319.8,230.23L301.9,244.55ZM301.9,249.68L319.8,235.36L319.8,238.66L301.9,252.98ZM301.9,258.11L319.8,243.79L319.8,247.09L301.9,261.41ZM301.9,266.54L319.8,252.22L319.8,255.52L301.9,269.84ZM301.9,274.97L319.8,260.65L319.8,263.95L301.9,278.27ZM301.9,283.4L319.8,269.08L319.8,272.38L301.9,286.7ZM301.9,291.83L319.8,277.51L319.8,280.81L301.9,295.13ZM301.9,300.26L319.8,285.94L319.8,289.24L301.9,303.56Z" fill="#000"/></g><rect x="302.9" y="250.3" width="15.9" height="32.9" fill="none" stroke="#000" stroke-width="1.1"/>
<path d="M310.85,250.3V249.2M306.45,249.2H315.25" stroke="#111" stroke-width="1.1" fill="none"/>
<rect x="318.8" y="249.9" width="16.2" height="33.3" fill="#fff"/><g clip-path="url(#c24)"><path d="M317.8,223.51L336,238.07L336,241.37L317.8,226.81ZM317.8,231.94L336,246.5L336,249.8L317.8,235.24ZM317.8,240.37L336,254.93L336,258.23L317.8,243.67ZM317.8,248.8L336,263.36L336,266.66L317.8,252.1ZM317.8,257.23L336,271.79L336,275.09L317.8,260.53ZM317.8,265.66L336,280.22L336,283.52L317.8,268.96ZM317.8,274.09L336,288.65L336,291.95L317.8,277.39ZM317.8,282.52L336,297.08L336,300.38L317.8,285.82ZM317.8,290.95L336,305.51L336,308.81L317.8,294.25Z" fill="#000"/></g><rect x="318.8" y="249.9" width="16.2" height="33.3" fill="none" stroke="#000" stroke-width="1.1"/>
<path d="M326.9,249.9V248.6M322.5,248.6H331.3" stroke="#111" stroke-width="1.1" fill="none"/>
<rect x="335" y="249.5" width="16.7" height="33.7" fill="#fff"/><g clip-path="url(#c25)"><rect x="335" y="249.5" width="16.7" height="33.7" fill="#000"/><path d="M333,249h1v1h-1ZM337,249h1v1h-1ZM341,249h1v1h-1ZM345,249h1v1h-1ZM349,249h1v1h-1ZM335,251h1v1h-1ZM339,251h1v1h-1ZM343,251h1v1h-1ZM347,251h1v1h-1ZM351,251h1v1h-1ZM333,253h1v1h-1ZM337,253h1v1h-1ZM341,253h1v1h-1ZM345,253h1v1h-1ZM349,253h1v1h-1ZM335,255h1v1h-1ZM339,255h1v1h-1ZM343,255h1v1h-1ZM347,255h1v1h-1ZM351,255h1v1h-1ZM333,257h1v1h-1ZM337,257h1v1h-1ZM341,257h1v1h-1ZM345,257h1v1h-1ZM349,257h1v1h-1ZM335,259h1v1h-1ZM339,259h1v1h-1ZM343,259h1v1h-1ZM347,259h1v1h-1ZM351,259h1v1h-1ZM333,261h1v1h-1ZM337,261h1v1h-1ZM341,261h1v1h-1ZM345,261h1v1h-1ZM349,261h1v1h-1ZM335,263h1v1h-1ZM339,263h1v1h-1ZM343,263h1v1h-1ZM347,263h1v1h-1ZM351,263h1v1h-1ZM333,265h1v1h-1ZM337,265h1v1h-1ZM341,265h1v1h-1ZM345,265h1v1h-1ZM349,265h1v1h-1ZM335,267h1v1h-1ZM339,267h1v1h-1ZM343,267h1v1h-1ZM347,267h1v1h-1ZM351,267h1v1h-1ZM333,269h1v1h-1ZM337,269h1v1h-1ZM341,269h1v1h-1ZM345,269h1v1h-1ZM349,269h1v1h-1ZM335,271h1v1h-1ZM339,271h1v1h-1ZM343,271h1v1h-1ZM347,271h1v1h-1ZM351,271h1v1h-1ZM333,273h1v1h-1ZM337,273h1v1h-1ZM341,273h1v1h-1ZM345,273h1v1h-1ZM349,273h1v1h-1ZM335,275h1v1h-1ZM339,275h1v1h-1ZM343,275h1v1h-1ZM347,275h1v1h-1ZM351,275h1v1h-1ZM333,277h1v1h-1ZM337,277h1v1h-1ZM341,277h1v1h-1ZM345,277h1v1h-1ZM349,277h1v1h-1ZM335,279h1v1h-1ZM339,279h1v1h-1ZM343,279h1v1h-1ZM347,279h1v1h-1ZM351,279h1v1h-1ZM333,281h1v1h-1ZM337,281h1v1h-1ZM341,281h1v1h-1ZM345,281h1v1h-1ZM349,281h1v1h-1ZM335,283h1v1h-1ZM339,283h1v1h-1ZM343,283h1v1h-1ZM347,283h1v1h-1ZM351,283h1v1h-1Z" fill="#b8b8b8"/></g><rect x="335" y="249.5" width="16.7" height="33.7" fill="none" stroke="#000" stroke-width="1.1"/>
<path d="M343.35,249.5V247.9M338.95,247.9H347.75" stroke="#111" stroke-width="1.1" fill="none"/>
<rect x="360.9" y="249.4" width="16.4" height="33.8" fill="#fff"/><g clip-path="url(#c26)"><path d="M359.9,244.95L378.3,227.84L378.3,229.14L359.9,246.25ZM359.9,253.28L378.3,236.17L378.3,237.47L359.9,254.58ZM359.9,261.61L378.3,244.5L378.3,245.8L359.9,262.91ZM359.9,269.94L378.3,252.83L378.3,254.13L359.9,271.24ZM359.9,278.27L378.3,261.16L378.3,262.46L359.9,279.57ZM359.9,286.6L378.3,269.49L378.3,270.79L359.9,287.9ZM359.9,294.93L378.3,277.82L378.3,279.12L359.9,296.23ZM359.9,303.26L378.3,286.15L378.3,287.45L359.9,304.56Z" fill="#2a2a2a"/></g><rect x="360.9" y="249.4" width="16.4" height="33.8" fill="none" stroke="#000" stroke-width="1.1"/>
<path d="M369.1,249.4V248.1M364.7,248.1H373.5" stroke="#111" stroke-width="1.1" fill="none"/>
<rect x="377.3" y="250.5" width="16" height="32.7" fill="#fff"/><g clip-path="url(#c27)"><path d="M376.3,230.77L394.3,247.51L394.3,248.81L376.3,232.07ZM376.3,239.1L394.3,255.84L394.3,257.14L376.3,240.4ZM376.3,247.43L394.3,264.17L394.3,265.47L376.3,248.73ZM376.3,255.76L394.3,272.5L394.3,273.8L376.3,257.06ZM376.3,264.09L394.3,280.83L394.3,282.13L376.3,265.39ZM376.3,272.42L394.3,289.16L394.3,290.46L376.3,273.72ZM376.3,280.75L394.3,297.49L394.3,298.79L376.3,282.05ZM376.3,289.08L394.3,305.82L394.3,307.12L376.3,290.38Z" fill="#2a2a2a"/></g><rect x="377.3" y="250.5" width="16" height="32.7" fill="none" stroke="#000" stroke-width="1.1"/>
<path d="M385.3,250.5V249.4M380.9,249.4H389.7" stroke="#111" stroke-width="1.1" fill="none"/>
<rect x="393.3" y="249.9" width="15.7" height="33.3" fill="#fff"/><g clip-path="url(#c28)"><path d="M392.3,242.88L410,225.18L410,226.43L392.3,244.13ZM392.3,251.28L410,233.58L410,234.83L392.3,252.53ZM392.3,259.68L410,241.98L410,243.23L392.3,260.93ZM392.3,268.08L410,250.38L410,251.63L392.3,269.33ZM392.3,276.48L410,258.78L410,260.03L392.3,277.73ZM392.3,284.88L410,267.18L410,268.43L392.3,286.13ZM392.3,293.28L410,275.58L410,276.83L392.3,294.53ZM392.3,301.68L410,283.98L410,285.23L392.3,302.93Z" fill="#222"/><path d="M392.3,228.88L410,246.58L410,247.83L392.3,230.13ZM392.3,237.28L410,254.98L410,256.23L392.3,238.53ZM392.3,245.68L410,263.38L410,264.62L392.3,246.93ZM392.3,254.08L410,271.77L410,273.02L392.3,255.33ZM392.3,262.48L410,280.18L410,281.43L392.3,263.73ZM392.3,270.88L410,288.58L410,289.83L392.3,272.12ZM392.3,279.28L410,296.98L410,298.23L392.3,280.53ZM392.3,287.68L410,305.38L410,306.62L392.3,288.93Z" fill="#222"/></g><rect x="393.3" y="249.9" width="15.7" height="33.3" fill="none" stroke="#000" stroke-width="1.1"/>
<path d="M401.15,249.9V248.1M396.75,248.1H405.55" stroke="#111" stroke-width="1.1" fill="none"/>
<path d="M266.5,189.45V283.2" stroke="#000" stroke-width="1.15"/>
<path d="M262,283.2H421.4" stroke="#000" stroke-width="1.15"/>
<text x="258.4" y="286.3" font-size="8.8" text-anchor="end">0</text>
<path d="M263.5,271.55H266.5" stroke="#000" stroke-width="1"/>
<path d="M261.7,259.9H266.5" stroke="#000" stroke-width="1.1"/>
<text x="258.4" y="263" font-size="8.8" text-anchor="end">10</text>
<path d="M263.5,248.25H266.5" stroke="#000" stroke-width="1"/>
<path d="M261.7,236.6H266.5" stroke="#000" stroke-width="1.1"/>
<text x="258.4" y="239.7" font-size="8.8" text-anchor="end">20</text>
<path d="M263.5,224.95H266.5" stroke="#000" stroke-width="1"/>
<path d="M261.7,213.3H266.5" stroke="#000" stroke-width="1.1"/>
<text x="258.4" y="216.4" font-size="8.8" text-anchor="end">30</text>
<path d="M263.5,201.65H266.5" stroke="#000" stroke-width="1"/>
<path d="M261.7,190H266.5" stroke="#000" stroke-width="1.1"/>
<text x="258.4" y="193.1" font-size="8.8" text-anchor="end">40</text></g>
<g><path d="M106.5,33.2V26.5H147.9V29.5 M122.4,33.4V26.5" stroke="#111" stroke-width="1.1" fill="none"/>
<path d="M144.8,29.2H151L147.9,37.9Z" fill="#000"/>
<text x="107.2" y="25.1" font-size="8" text-anchor="middle" fill="#1a1a1a">++</text>
<text x="122.5" y="24.4" font-size="8" text-anchor="middle" fill="#1a1a1a">++</text>
<text transform="translate(106.5,46.23)" font-family="DejaVu Sans, sans-serif" font-size="11" text-anchor="middle" fill="#5a5a5a" style="font-family:'DejaVu Sans',sans-serif">*</text>
<text transform="translate(122.7,45.68)" font-family="DejaVu Sans, sans-serif" font-size="11" text-anchor="middle" fill="#5a5a5a" style="font-family:'DejaVu Sans',sans-serif">*</text>
<path d="M327.5,55.6V48.5H383.5V51.6" stroke="#111" stroke-width="1.1" fill="none"/>
<path d="M342.3,55.4V49.1" stroke="#777" stroke-width="1.2" fill="none"/>
<path d="M380.2,51.5H386.8L383.5,60.8Z" fill="#000"/>
<path d="M327.5,73.7V66.4H367.8V68.6 M342.6,73.7V66.4" stroke="#111" stroke-width="1.1" fill="none"/>
<path d="M364.6,68.5H371L367.8,77.2Z" fill="#000"/>
<text transform="translate(327.9,44.8) scale(0.75,1.08) skewX(-10)" font-size="8" font-weight="bold" text-anchor="middle" fill="#111">#</text>
<text transform="translate(342.6,44.6) scale(0.75,1.08) skewX(-10)" font-size="8" font-weight="bold" text-anchor="middle" fill="#111">#</text>
<text x="327.4" y="64.4" font-size="8" text-anchor="middle" fill="#1a1a1a">++</text>
<text x="343.1" y="64.4" font-size="8" text-anchor="middle" fill="#1a1a1a">++</text>
<text transform="translate(343.4,90.39)" font-family="DejaVu Sans, sans-serif" font-size="11" text-anchor="middle" fill="#5a5a5a" style="font-family:'DejaVu Sans',sans-serif">*</text></g>
<g><rect x="141.3" y="298.4" width="15.1" height="6.9" fill="#fff"/><rect x="141.3" y="298.4" width="15.1" height="6.9" fill="none" stroke="#222" stroke-width="1"/>
<text x="159.6" y="304.5" font-size="7">Vehicle</text>
<rect x="141.3" y="311.6" width="15.1" height="6.9" fill="#fff"/><g clip-path="url(#c30)"><path d="M140.3,304.64L157.4,285.83L157.4,288.33L140.3,307.14ZM140.3,310.94L157.4,292.13L157.4,294.63L140.3,313.44ZM140.3,317.24L157.4,298.43L157.4,300.93L140.3,319.74ZM140.3,323.54L157.4,304.73L157.4,307.23L140.3,326.04ZM140.3,329.84L157.4,311.03L157.4,313.53L140.3,332.34ZM140.3,336.14L157.4,317.33L157.4,319.83L140.3,338.64ZM140.3,342.44L157.4,323.63L157.4,326.13L140.3,344.94Z" fill="#000"/></g><rect x="141.3" y="311.6" width="15.1" height="6.9" fill="none" stroke="#222" stroke-width="1"/>
<text x="159.6" y="317.7" font-size="7">Eszopiclone (1mg/kg)</text>
<rect x="141.3" y="323.4" width="15.1" height="6.9" fill="#fff"/><g clip-path="url(#c31)"><path d="M140.3,301.49L157.4,320.3L157.4,322.8L140.3,303.99ZM140.3,307.79L157.4,326.6L157.4,329.1L140.3,310.29ZM140.3,314.09L157.4,332.9L157.4,335.4L140.3,316.59ZM140.3,320.39L157.4,339.2L157.4,341.7L140.3,322.89ZM140.3,326.69L157.4,345.5L157.4,348L140.3,329.19ZM140.3,332.99L157.4,351.8L157.4,354.3L140.3,335.49Z" fill="#000"/></g><rect x="141.3" y="323.4" width="15.1" height="6.9" fill="none" stroke="#222" stroke-width="1"/>
<text x="159.6" y="329.5" font-size="7">Eszopiclone (3mg/kg)</text>
<rect x="141.3" y="335.6" width="15.1" height="6.9" fill="#fff"/><g clip-path="url(#c32)"><rect x="141.3" y="335.6" width="15.1" height="6.9" fill="#000"/><path d="M139,335.6h1.2v1.2h-1.2ZM142,335.6h1.2v1.2h-1.2ZM145,335.6h1.2v1.2h-1.2ZM148,335.6h1.2v1.2h-1.2ZM151,335.6h1.2v1.2h-1.2ZM154,335.6h1.2v1.2h-1.2ZM140.5,337h1.2v1.2h-1.2ZM143.5,337h1.2v1.2h-1.2ZM146.5,337h1.2v1.2h-1.2ZM149.5,337h1.2v1.2h-1.2ZM152.5,337h1.2v1.2h-1.2ZM155.5,337h1.2v1.2h-1.2ZM139,338.4h1.2v1.2h-1.2ZM142,338.4h1.2v1.2h-1.2ZM145,338.4h1.2v1.2h-1.2ZM148,338.4h1.2v1.2h-1.2ZM151,338.4h1.2v1.2h-1.2ZM154,338.4h1.2v1.2h-1.2ZM140.5,339.8h1.2v1.2h-1.2ZM143.5,339.8h1.2v1.2h-1.2ZM146.5,339.8h1.2v1.2h-1.2ZM149.5,339.8h1.2v1.2h-1.2ZM152.5,339.8h1.2v1.2h-1.2ZM155.5,339.8h1.2v1.2h-1.2ZM139,341.2h1.2v1.2h-1.2ZM142,341.2h1.2v1.2h-1.2ZM145,341.2h1.2v1.2h-1.2ZM148,341.2h1.2v1.2h-1.2ZM151,341.2h1.2v1.2h-1.2ZM154,341.2h1.2v1.2h-1.2Z" fill="#9a9a9a"/></g><rect x="141.3" y="335.6" width="15.1" height="6.9" fill="none" stroke="#222" stroke-width="1"/>
<text x="159.6" y="341.7" font-size="7">Eszopiclone (10mg/kg)</text>
<rect x="239.6" y="311.6" width="14.9" height="6.9" fill="#fff"/><g clip-path="url(#c33)"><path d="M238.6,310.72L255.5,291.29L255.5,292.49L238.6,311.92ZM238.6,317.32L255.5,297.89L255.5,299.09L238.6,318.52ZM238.6,323.92L255.5,304.49L255.5,305.69L238.6,325.12ZM238.6,330.52L255.5,311.09L255.5,312.29L238.6,331.73ZM238.6,337.12L255.5,317.69L255.5,318.89L238.6,338.33ZM238.6,343.72L255.5,324.29L255.5,325.49L238.6,344.92Z" fill="#222"/></g><rect x="239.6" y="311.6" width="14.9" height="6.9" fill="none" stroke="#222" stroke-width="1"/>
<text x="260.2" y="317.2" font-size="7">Zolpidem (1mg/kg)</text>
<rect x="239.6" y="323.2" width="14.9" height="6.9" fill="#fff"/><g clip-path="url(#c34)"><path d="M238.6,301.99L255.5,321.42L255.5,322.62L238.6,303.19ZM238.6,308.38L255.5,327.82L255.5,329.02L238.6,309.59ZM238.6,314.79L255.5,334.22L255.5,335.42L238.6,315.99ZM238.6,321.19L255.5,340.62L255.5,341.82L238.6,322.39ZM238.6,327.58L255.5,347.02L255.5,348.22L238.6,328.79ZM238.6,333.99L255.5,353.42L255.5,354.62L238.6,335.19Z" fill="#222"/></g><rect x="239.6" y="323.2" width="14.9" height="6.9" fill="none" stroke="#222" stroke-width="1"/>
<text x="260.2" y="328.8" font-size="7">Zolpidem (3mg/kg)</text>
<rect x="239.6" y="335.3" width="14.9" height="6.9" fill="#fff"/><g clip-path="url(#c35)"><path d="M238.6,334.2L255.5,317.3L255.5,318.3L238.6,335.2ZM238.6,338.8L255.5,321.9L255.5,322.9L238.6,339.8ZM238.6,343.4L255.5,326.5L255.5,327.5L238.6,344.4ZM238.6,348L255.5,331.1L255.5,332.1L238.6,349ZM238.6,352.6L255.5,335.7L255.5,336.7L238.6,353.6ZM238.6,357.2L255.5,340.3L255.5,341.3L238.6,358.2ZM238.6,361.8L255.5,344.9L255.5,345.9L238.6,362.8Z" fill="#222"/><path d="M238.6,314.2L255.5,331.1L255.5,332.1L238.6,315.2ZM238.6,318.8L255.5,335.7L255.5,336.7L238.6,319.8ZM238.6,323.4L255.5,340.3L255.5,341.3L238.6,324.4ZM238.6,328L255.5,344.9L255.5,345.9L238.6,329ZM238.6,332.6L255.5,349.5L255.5,350.5L238.6,333.6ZM238.6,337.2L255.5,354.1L255.5,355.1L238.6,338.2ZM238.6,341.8L255.5,358.7L255.5,359.7L238.6,342.8Z" fill="#222"/></g><rect x="239.6" y="335.3" width="14.9" height="6.9" fill="none" stroke="#222" stroke-width="1"/>
<text x="260.2" y="340.9" font-size="7">Zolpidem (10mg/kg)</text></g>
</svg>
</body></html>
